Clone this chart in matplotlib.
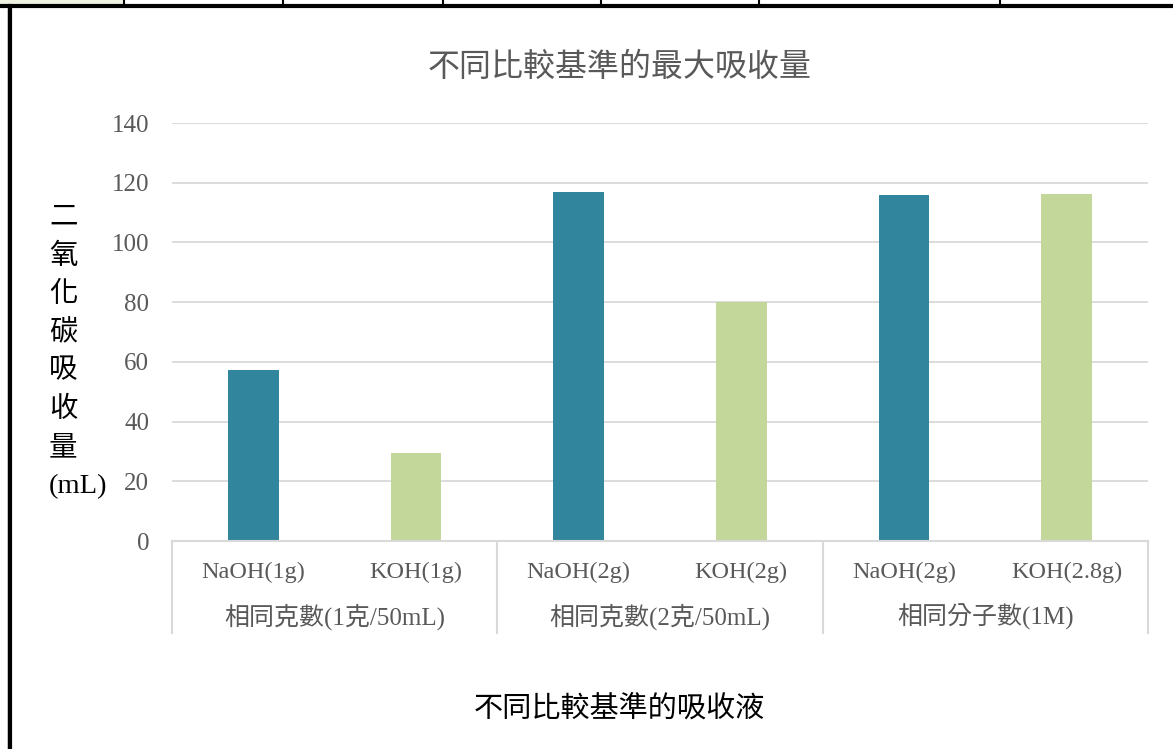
import matplotlib
matplotlib.use("Agg")
import matplotlib.pyplot as plt
from matplotlib.lines import Line2D
from matplotlib.patches import Rectangle
from matplotlib.transforms import blended_transform_factory

# ---- data ----
solutions = ["NaOH(1g)", "KOH(1g)", "NaOH(2g)", "KOH(2g)", "NaOH(2g)", "KOH(2.8g)"]
groups = ["相同克數(1克/50mL)", "相同克數(2克/50mL)", "相同分子數(1M)"]
absorbed_ml = [57.3, 29.5, 116.9, 80.2, 115.9, 116.2]
bar_colors = ["#31859C", "#C4D79B", "#31859C", "#C4D79B", "#31859C", "#C4D79B"]
y_ticks = [0, 20, 40, 60, 80, 100, 120, 140]

title = "不同比較基準的最大吸收量"
x_title = "不同比較基準的吸收液"
y_title = ["二", "氧", "化", "碳", "吸", "收", "量", "(mL)"]

W, H = 1173, 749
fig = plt.figure(figsize=(W / 100, H / 100), dpi=100)
fig.patch.set_facecolor("white")

def fx(px):
    return px / W

def fy(py):
    return 1 - py / H

serif_mix = ["Liberation Serif", "Noto Sans CJK TC"]
grey = "#595959"

left, right, top, bottom = 172, 1148, 123, 541
ax = fig.add_axes([fx(left), fy(bottom), fx(right) - fx(left), fy(top) - fy(bottom)])

xs = list(range(len(solutions)))
ax.bar(xs, absorbed_ml, width=0.31, color=bar_colors, zorder=3)

ax.set_xlim(-0.5, len(solutions) - 0.5)
ax.set_ylim(0, 140)
ax.set_yticks(y_ticks)
ax.set_yticklabels([str(t) for t in y_ticks], fontfamily="Liberation Serif",
                   fontsize=18, color=grey)
ax.tick_params(axis="y", length=0, pad=16.5)
ax.set_xticks([])
ax.grid(axis="y", color="#D9D9D9", linewidth=1.3, zorder=0)
for s in ["top", "right", "left"]:
    ax.spines[s].set_visible(False)
ax.spines["bottom"].set_color("#D9D9D9")
ax.spines["bottom"].set_linewidth(1.5)
ax.spines["bottom"].set_zorder(4)

# category labels under the axis (two levels)
tr = blended_transform_factory(ax.transData, ax.transAxes)
ax_h = bottom - top
for x, lab in zip(xs, solutions):
    ax.text(x, -(572 - bottom) / ax_h, lab, transform=tr, ha="center", va="center",
            fontfamily="Liberation Serif", fontsize=17.5, color=grey)
for g, lab in enumerate(groups):
    ax.text(2 * g + 0.5, -(617 - bottom) / ax_h, lab, transform=tr, ha="center",
            va="center", fontfamily=serif_mix, fontsize=18, color=grey)
for xb in [-0.5, 1.5, 3.5, 5.5]:
    ax.add_line(Line2D([xb, xb], [0, -(633 - bottom) / ax_h], transform=tr,
                       color="#D9D9D9", linewidth=1.5, clip_on=False))

# titles
fig.text(fx(620), fy(67), title, ha="center", va="center",
         fontfamily="Noto Sans CJK TC", fontsize=23, color=grey)
fig.text(fx(619), fy(709), x_title, ha="center", va="center",
         fontfamily="Noto Sans CJK TC", fontsize=21, color="black")
for i, ch in enumerate(y_title):
    fig.text(fx(49), fy(218 + i * 38.4), ch, ha="left", va="center",
             fontfamily=serif_mix, fontsize=20.5, color="black")

# surrounding table borders
fig.add_artist(Rectangle((0, fy(4)), fx(123), fy(0) - fy(4), transform=fig.transFigure,
                         facecolor="#EEF3E1", edgecolor="none"))
fig.add_artist(Line2D([0, 1], [fy(6), fy(6)], transform=fig.transFigure,
                      color="black", linewidth=3.0))
for xv in [124, 283, 443, 601, 759, 1000]:
    fig.add_artist(Line2D([fx(xv), fx(xv)], [fy(0), fy(5)], transform=fig.transFigure,
                          color="black", linewidth=1.5))
fig.add_artist(Line2D([fx(10), fx(10)], [fy(6), 0], transform=fig.transFigure,
                      color="black", linewidth=3.0))
fig.add_artist(Line2D([fx(7), fx(7)], [fy(8), 0], transform=fig.transFigure,
                      color="#BBBBBB", linewidth=0.6))

fig.savefig("out.png", dpi=100, facecolor="white")
